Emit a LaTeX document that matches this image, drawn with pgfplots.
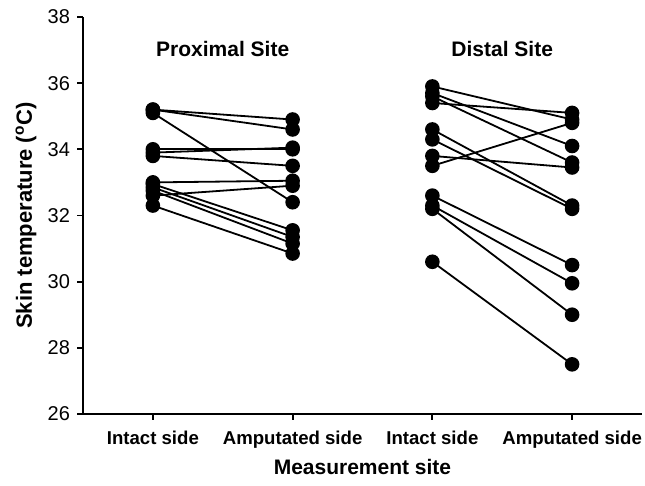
\documentclass[border=0pt]{standalone}
\usepackage{pgfplots}
\pgfplotsset{compat=1.18}
\usepackage{fontspec}
\setmainfont{Liberation Sans}
\begin{document}
\begin{tikzpicture}
\begin{axis}[
  width=279.5pt, height=198.5pt, scale only axis,
  xmin=0.5, xmax=4.5, ymin=26, ymax=38,
  axis x line*=bottom, axis y line*=left,
  axis line style={line width=0.9pt},
  xtick={1,2,3,4},
  xticklabels={Intact side, Amputated side, Intact side, Amputated side},
  ytick={26,28,30,32,34,36,38},
  tick align=outside, major tick length=3pt,
  tick style={line width=0.9pt, black},
  /pgf/number format/assume math mode=true,
  yticklabel style={font=\fontsize{10}{12}\selectfont},
  xticklabel style={font=\fontsize{9.3}{11}\selectfont\bfseries, yshift=-2pt},
  xlabel={Measurement site},
  ylabel={Skin temperature (\textsuperscript{o}C)},
  xlabel style={font=\fontsize{10.5}{12}\selectfont\bfseries, at={(axis description cs:0.5,-0.1335)}, anchor=center},
  ylabel style={font=\fontsize{11}{12}\selectfont\bfseries, at={(axis description cs:-0.102,0.5)}, anchor=center, rotate=0},
  clip=false,
  subj/.style={black, solid, line width=0.9pt, mark=*, mark size=3.2pt, mark options={solid, fill=black, draw=black}},
]
% Proximal site
\addplot[subj] coordinates {(1,35.2) (2,34.9)};
\addplot[subj] coordinates {(1,35.2) (2,34.6)};
\addplot[subj] coordinates {(1,35.1) (2,32.4)};
\addplot[subj] coordinates {(1,34.0) (2,34.0)};
\addplot[subj] coordinates {(1,33.9) (2,34.05)};
\addplot[subj] coordinates {(1,33.8) (2,33.5)};
\addplot[subj] coordinates {(1,33.0) (2,33.05)};
\addplot[subj] coordinates {(1,32.6) (2,32.9)};
\addplot[subj] coordinates {(1,32.95) (2,31.55)};
\addplot[subj] coordinates {(1,32.85) (2,31.35)};
\addplot[subj] coordinates {(1,32.75) (2,31.15)};
\addplot[subj] coordinates {(1,32.3) (2,30.85)};
% Distal site
\addplot[subj] coordinates {(3,35.9) (4,34.9)};
\addplot[subj] coordinates {(3,35.4) (4,35.1)};
\addplot[subj] coordinates {(3,35.7) (4,34.1)};
\addplot[subj] coordinates {(3,35.6) (4,33.6)};
\addplot[subj] coordinates {(3,34.6) (4,32.3)};
\addplot[subj] coordinates {(3,34.3) (4,32.2)};
\addplot[subj] coordinates {(3,33.8) (4,33.45)};
\addplot[subj] coordinates {(3,33.5) (4,34.8)};
\addplot[subj] coordinates {(3,32.6) (4,30.5)};
\addplot[subj] coordinates {(3,32.3) (4,29.95)};
\addplot[subj] coordinates {(3,32.2) (4,29.0)};
\addplot[subj] coordinates {(3,30.6) (4,27.5)};
\node[font=\fontsize{10.5}{12}\selectfont\bfseries] at (axis cs:1.5,37.03) {Proximal Site};
\node[font=\fontsize{10.5}{12}\selectfont\bfseries] at (axis cs:3.5,37.03) {Distal Site};
\coordinate (bbsw) at (rel axis cs:-0.1485,-0.1814);
\coordinate (bbne) at (rel axis cs:1.0054,1.0428);
\end{axis}
\pgfresetboundingbox
\path[use as bounding box] (bbsw) rectangle (bbne);
\end{tikzpicture}
\end{document}
